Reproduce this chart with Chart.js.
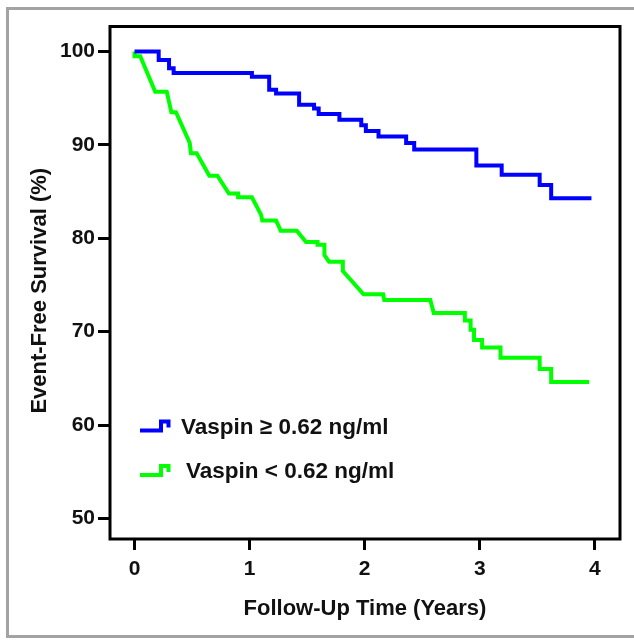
<!DOCTYPE html>
<html>
<head>
<meta charset="utf-8">
<script src="https://cdn.jsdelivr.net/npm/chart.js@4.4.0/dist/chart.umd.min.js"></script>
<style>
  html, body { margin: 0; padding: 0; background: #ffffff; }
  #wrap { position: relative; width: 634px; height: 641px; }
</style>
</head>
<body>
<div id="wrap"><canvas id="c" width="634" height="641"></canvas></div>
<script>
// ---- data ----
const seriesLabels = ['Vaspin \u2265 0.62 ng/ml', 'Vaspin < 0.62 ng/ml'];

// Vaspin >= 0.62 : Kaplan-Meier step curve (time of drop, survival after drop)
const blueTimes = [0, 0.21, 0.30, 0.34, 1.02, 1.17, 1.23, 1.43, 1.56, 1.60, 1.78, 1.97, 2.01, 2.12, 2.36, 2.43, 2.97, 3.19, 3.52, 3.62, 3.97];
const blueSurv  = [100, 99.1, 98.2, 97.7, 97.3, 95.9, 95.5, 94.3, 93.9, 93.3, 92.7, 92.1, 91.5, 90.9, 90.2, 89.5, 87.8, 86.8, 85.7, 84.3, 84.3];

// Vaspin < 0.62 : curve vertices as drawn
const greenTimes = [0, 0, 0.05, 0.18, 0.28, 0.32, 0.36, 0.48, 0.49, 0.54, 0.65, 0.72, 0.82, 0.90, 0.90, 1.02, 1.10, 1.11, 1.23, 1.26, 1.27, 1.41, 1.49, 1.59, 1.59, 1.65, 1.65, 1.69, 1.81, 1.81, 1.99, 2.16, 2.17, 2.57, 2.60, 2.87, 2.87, 2.92, 2.92, 2.95, 2.95, 3.02, 3.02, 3.18, 3.18, 3.52, 3.52, 3.62, 3.62, 3.95];
const greenSurv  = [100, 99.5, 99.5, 95.7, 95.7, 93.5, 93.5, 90.2, 89.1, 89.1, 86.7, 86.7, 84.8, 84.8, 84.4, 84.4, 82.5, 81.9, 81.9, 81.1, 80.8, 80.8, 79.6, 79.6, 79.3, 79.3, 78.2, 77.5, 77.5, 76.5, 74.0, 74.0, 73.4, 73.4, 72.0, 72.0, 71.2, 71.2, 70.2, 70.2, 69.1, 69.1, 68.3, 68.3, 67.2, 67.2, 66.0, 66.0, 64.6, 64.6];

const xTicks = [0, 1, 2, 3, 4];
const yTicks = [50, 60, 70, 80, 90, 100];
const xTitle = 'Follow-Up Time (Years)';
const yTitle = 'Event-Free Survival (%)';

// ---- chart ----
const FONT = '"Liberation Sans", Arial, Helvetica, sans-serif';
const toPts = (xs, ys) => xs.map((x, i) => ({ x: x, y: ys[i] }));

const pageFrame = {
  id: 'pageFrame',
  beforeDraw(chart) {
    const ctx = chart.ctx;
    ctx.save();
    ctx.fillStyle = '#ffffff';
    ctx.fillRect(0, 0, chart.width, chart.height);
    ctx.strokeStyle = '#a3a3a3';
    ctx.lineWidth = 3;
    ctx.strokeRect(7.5, 8.5, chart.width + 20, 628);
    ctx.restore();
  },
  afterDraw(chart) {
    const ctx = chart.ctx;
    const a = chart.chartArea;
    ctx.save();
    ctx.strokeStyle = '#000000';
    ctx.lineWidth = 3;
    ctx.strokeRect(a.left, a.top, a.right - a.left, a.bottom - a.top);

    // y-axis title
    ctx.save();
    ctx.translate(40, (a.top + a.bottom) / 2 + 8);
    ctx.rotate(-Math.PI / 2);
    ctx.fillStyle = '#111111';
    ctx.font = 'bold 22px ' + FONT;
    ctx.textAlign = 'center';
    ctx.textBaseline = 'middle';
    ctx.fillText(yTitle, 0, 0);
    ctx.restore();

    // legend
    const ds = chart.data.datasets;
    const L = a.left + 30;
    const rows = [a.top + 401, a.top + 445.5];
    const textShift = [0, 5];
    ctx.lineWidth = 4;
    ctx.lineJoin = 'miter';
    ctx.lineCap = 'butt';
    ds.forEach((d, i) => {
      const yc = rows[i];
      ctx.strokeStyle = d.borderColor;
      ctx.beginPath();
      ctx.moveTo(L, yc + 3);
      ctx.lineTo(L + 21, yc + 3);
      ctx.lineTo(L + 21, yc - 6);
      ctx.lineTo(L + 28.5, yc - 6);
      ctx.lineTo(L + 28.5, yc);
      ctx.stroke();
      ctx.fillStyle = '#111111';
      ctx.font = 'bold 22.5px ' + FONT;
      ctx.textBaseline = 'middle';
      ctx.textAlign = 'left';
      ctx.fillText(d.label, L + 41 + textShift[i], yc);
    });
    ctx.restore();
  }
};

new Chart(document.getElementById('c'), {
  type: 'line',
  data: {
    datasets: [
      {
        label: seriesLabels[0],
        data: toPts(blueTimes, blueSurv),
        borderColor: '#0000ff',
        borderWidth: 4,
        stepped: true,
        pointRadius: 0,
        fill: false,
        borderJoinStyle: 'miter',
        borderCapStyle: 'butt'
      },
      {
        label: seriesLabels[1],
        data: toPts(greenTimes, greenSurv),
        borderColor: '#00ff00',
        borderWidth: 4,
        tension: 0,
        pointRadius: 0,
        fill: false,
        borderJoinStyle: 'miter',
        borderCapStyle: 'butt'
      }
    ]
  },
  options: {
    responsive: false,
    animation: false,
    devicePixelRatio: 1,
    layout: { padding: { left: 0, right: 14, top: 26.5, bottom: 0 } },
    plugins: {
      legend: { display: false },
      tooltip: { enabled: false },
      title: { display: false }
    },
    scales: {
      x: {
        type: 'linear',
        min: -0.213,
        max: 4.218,
        afterBuildTicks: (s) => { s.ticks = xTicks.map(v => ({ value: v })); },
        afterFit: (s) => { s.height = 102; },
        grid: {
          drawOnChartArea: false, drawTicks: true, tickLength: 11,
          tickColor: '#000', tickWidth: 3, color: '#000', lineWidth: 3
        },
        border: { display: false },
        ticks: {
          color: '#111111',
          padding: 7,
          font: { family: FONT, size: 21, weight: 'bold' },
          maxRotation: 0,
          callback: (v) => String(v)
        },
        title: {
          display: true,
          text: xTitle,
          color: '#111111',
          font: { family: FONT, size: 22, weight: 'bold' },
          padding: { top: 0, bottom: 19 }
        }
      },
      y: {
        type: 'linear',
        min: 47.8,
        max: 102.68,
        afterBuildTicks: (s) => { s.ticks = yTicks.map(v => ({ value: v })); },
        afterFit: (s) => { s.width = 110; },
        grid: {
          drawOnChartArea: false, drawTicks: true, tickLength: 12,
          tickColor: '#000', tickWidth: 3, color: '#000', lineWidth: 3
        },
        border: { display: false },
        ticks: {
          color: '#111111',
          padding: 3,
          font: { family: FONT, size: 21, weight: 'bold' },
          callback: (v) => String(v)
        },
        title: { display: false }
      }
    }
  },
  plugins: [pageFrame]
});
</script>
</body>
</html>
